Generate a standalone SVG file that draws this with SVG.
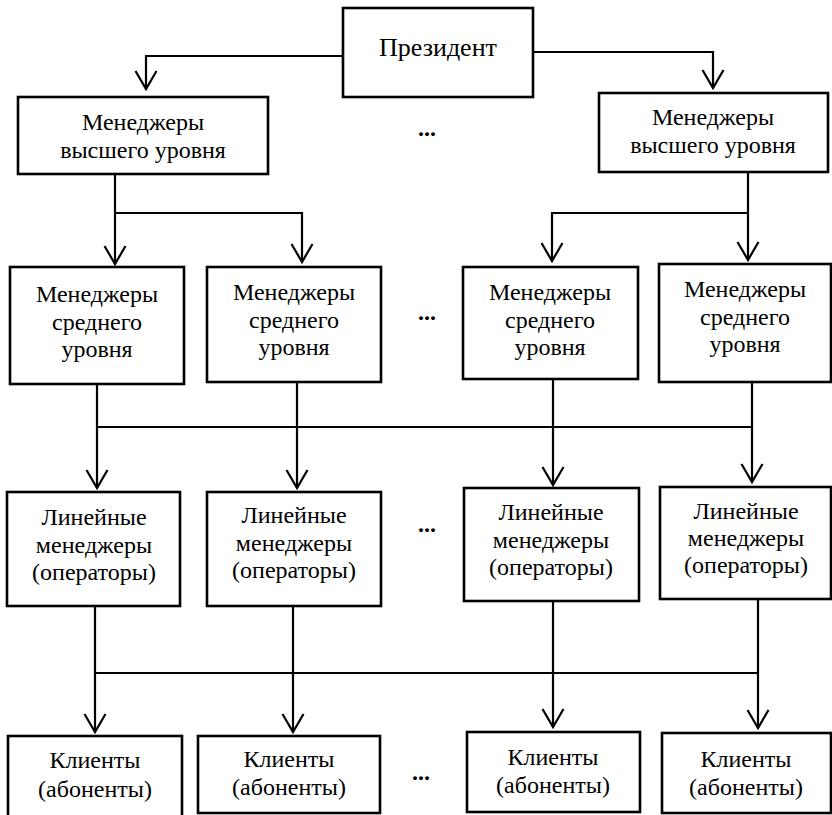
<svg xmlns="http://www.w3.org/2000/svg" width="832" height="815" viewBox="0 0 832 815">
  <style>
    .box { fill: #fff; stroke: #000; stroke-width: 2.6; }
    .lbl { font-family: "Liberation Serif", "Times New Roman", serif; font-size: 24px; fill: #000; text-anchor: middle; }
    .big { font-size: 26px; }
    .wire { fill: none; stroke: #000; stroke-width: 2.2; }
    .dots { font-family: "Liberation Serif", "Times New Roman", serif; font-size: 24px; font-weight: bold; fill: #000; }
  </style>
  <defs>
    <!-- open V arrowhead -->
    <marker id="v" viewBox="0 0 22 24" markerWidth="22" markerHeight="24" refX="19" refY="12" orient="auto" markerUnits="userSpaceOnUse">
      <path d="M1,1.5 L19,12 L1,22.5" fill="none" stroke="#000" stroke-width="2.2"/>
    </marker>
  </defs>
  <rect width="832" height="815" fill="#fff"/>

  <!-- connectors -->
  <g id="connectors">
    <path class="wire" d="M343,56 H146 V89" marker-end="url(#v)"/>
    <path class="wire" d="M533,52 H713 V88" marker-end="url(#v)"/>
    <path class="wire" d="M115,174 V264" marker-end="url(#v)"/>
    <path class="wire" d="M115,213 H302 V262" marker-end="url(#v)"/>
    <path class="wire" d="M748,172 V260" marker-end="url(#v)"/>
    <path class="wire" d="M748,213 H552 V261" marker-end="url(#v)"/>
    <path class="wire" d="M97,384 V488" marker-end="url(#v)"/>
    <path class="wire" d="M297,382 V488" marker-end="url(#v)"/>
    <path class="wire" d="M553,379 V485" marker-end="url(#v)"/>
    <path class="wire" d="M752,382 V482" marker-end="url(#v)"/>
    <path class="wire" d="M97,427 H752"/>
    <path class="wire" d="M95,606 V732" marker-end="url(#v)"/>
    <path class="wire" d="M293,606 V732" marker-end="url(#v)"/>
    <path class="wire" d="M553,601 V727" marker-end="url(#v)"/>
    <path class="wire" d="M758,599 V728" marker-end="url(#v)"/>
    <path class="wire" d="M95,673 H758"/>
  </g>

  <!-- top -->
  <g id="president">
    <rect class="box" x="343" y="8" width="190" height="89"/>
    <text class="lbl big" x="438" y="56">Президент</text>
  </g>
  <g id="top-left">
    <rect class="box" x="18" y="97" width="250" height="77"/>
    <text class="lbl" x="143" y="130">Менеджеры</text>
    <text class="lbl" x="143" y="158">высшего уровня</text>
  </g>
  <g id="top-right">
    <rect class="box" x="599" y="93" width="229" height="79"/>
    <text class="lbl" x="713" y="125">Менеджеры</text>
    <text class="lbl" x="713" y="153">высшего уровня</text>
  </g>

  <!-- middle managers -->
  <g id="mid-1">
    <rect class="box" x="10" y="267" width="174" height="117"/>
    <text class="lbl" x="97" y="302">Менеджеры</text>
    <text class="lbl" x="97" y="330">среднего</text>
    <text class="lbl" x="97" y="357">уровня</text>
  </g>
  <g id="mid-2">
    <rect class="box" x="207" y="267" width="174" height="115"/>
    <text class="lbl" x="294" y="300">Менеджеры</text>
    <text class="lbl" x="294" y="328">среднего</text>
    <text class="lbl" x="294" y="355">уровня</text>
  </g>
  <g id="mid-3">
    <rect class="box" x="463" y="267" width="175" height="112"/>
    <text class="lbl" x="550" y="300">Менеджеры</text>
    <text class="lbl" x="550" y="328">среднего</text>
    <text class="lbl" x="550" y="355">уровня</text>
  </g>
  <g id="mid-4">
    <rect class="box" x="659" y="264" width="172" height="118"/>
    <text class="lbl" x="745" y="297">Менеджеры</text>
    <text class="lbl" x="745" y="325">среднего</text>
    <text class="lbl" x="745" y="352">уровня</text>
  </g>

  <!-- line managers -->
  <g id="line-1">
    <rect class="box" x="7" y="492" width="173" height="114"/>
    <text class="lbl" x="94" y="525">Линейные</text>
    <text class="lbl" x="94" y="553">менеджеры</text>
    <text class="lbl" x="94" y="580">(операторы)</text>
  </g>
  <g id="line-2">
    <rect class="box" x="207" y="492" width="174" height="114"/>
    <text class="lbl" x="294" y="523">Линейные</text>
    <text class="lbl" x="294" y="551">менеджеры</text>
    <text class="lbl" x="294" y="578">(операторы)</text>
  </g>
  <g id="line-3">
    <rect class="box" x="464" y="488" width="175" height="113"/>
    <text class="lbl" x="551" y="520">Линейные</text>
    <text class="lbl" x="551" y="548">менеджеры</text>
    <text class="lbl" x="551" y="575">(операторы)</text>
  </g>
  <g id="line-4">
    <rect class="box" x="660" y="487" width="171" height="112"/>
    <text class="lbl" x="746" y="519">Линейные</text>
    <text class="lbl" x="746" y="546">менеджеры</text>
    <text class="lbl" x="746" y="573">(операторы)</text>
  </g>

  <!-- clients -->
  <g id="client-1">
    <rect class="box" x="8" y="736" width="174" height="90"/>
    <text class="lbl" x="95" y="768">Клиенты</text>
    <text class="lbl" x="95" y="797">(абоненты)</text>
  </g>
  <g id="client-2">
    <rect class="box" x="198" y="736" width="182" height="77"/>
    <text class="lbl" x="289" y="767">Клиенты</text>
    <text class="lbl" x="289" y="795">(абоненты)</text>
  </g>
  <g id="client-3">
    <rect class="box" x="467" y="732" width="173" height="80"/>
    <text class="lbl" x="553" y="765">Клиенты</text>
    <text class="lbl" x="553" y="793">(абоненты)</text>
  </g>
  <g id="client-4">
    <rect class="box" x="662" y="733" width="169" height="80"/>
    <text class="lbl" x="746" y="767">Клиенты</text>
    <text class="lbl" x="746" y="795">(абоненты)</text>
  </g>

  <!-- ellipses between columns -->
  <g id="ellipses">
    <text class="dots" x="418" y="136">...</text>
    <text class="dots" x="418" y="320">...</text>
    <text class="dots" x="418" y="532">...</text>
    <text class="dots" x="412" y="780">...</text>
  </g>
</svg>
